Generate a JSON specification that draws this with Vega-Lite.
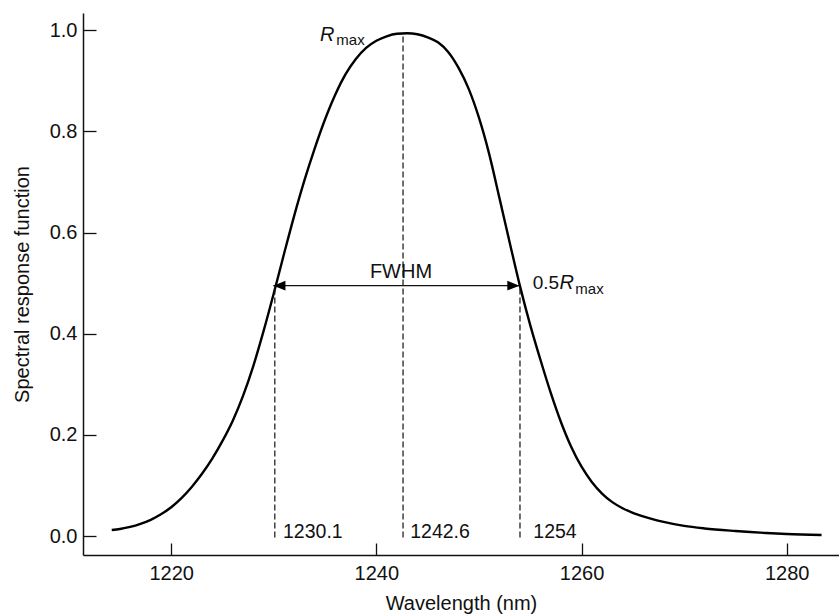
{
  "$schema": "https://vega.github.io/schema/vega-lite/v6.json",
  "width": 756,
  "height": 542,
  "autosize": {"type": "none"},
  "padding": {"left": 83, "top": 13, "right": 0, "bottom": 60},
  "background": "white",
  "config": {
    "view": {"stroke": null},
    "font": "Liberation Sans",
    "axis": {
      "grid": false,
      "domainColor": "#111",
      "domainWidth": 1.5,
      "tickColor": "#111",
      "tickWidth": 1.3,
      "labelColor": "#111",
      "titleColor": "#111",
      "labelFont": "Liberation Sans",
      "titleFont": "Liberation Sans",
      "labelFontSize": 20,
      "titleFontSize": 20,
      "titleFontWeight": "normal"
    }
  },
  "datasets": {
    "curve": [
      {"wavelength": 1214.2, "response": 0.012},
      {"wavelength": 1215, "response": 0.014},
      {"wavelength": 1216, "response": 0.018},
      {"wavelength": 1217, "response": 0.024},
      {"wavelength": 1218, "response": 0.032},
      {"wavelength": 1219, "response": 0.043},
      {"wavelength": 1220, "response": 0.057},
      {"wavelength": 1221, "response": 0.075},
      {"wavelength": 1222, "response": 0.097},
      {"wavelength": 1223, "response": 0.123},
      {"wavelength": 1224, "response": 0.153},
      {"wavelength": 1225, "response": 0.188},
      {"wavelength": 1226, "response": 0.228},
      {"wavelength": 1227, "response": 0.277},
      {"wavelength": 1228, "response": 0.336},
      {"wavelength": 1229, "response": 0.405},
      {"wavelength": 1230, "response": 0.480},
      {"wavelength": 1231, "response": 0.558},
      {"wavelength": 1232, "response": 0.634},
      {"wavelength": 1233, "response": 0.704},
      {"wavelength": 1234, "response": 0.767},
      {"wavelength": 1235, "response": 0.824},
      {"wavelength": 1236, "response": 0.873},
      {"wavelength": 1237, "response": 0.913},
      {"wavelength": 1238, "response": 0.943},
      {"wavelength": 1239, "response": 0.965},
      {"wavelength": 1240, "response": 0.979},
      {"wavelength": 1241, "response": 0.988},
      {"wavelength": 1242, "response": 0.993},
      {"wavelength": 1243, "response": 0.994},
      {"wavelength": 1244, "response": 0.992},
      {"wavelength": 1245, "response": 0.986},
      {"wavelength": 1246, "response": 0.976},
      {"wavelength": 1247, "response": 0.957},
      {"wavelength": 1248, "response": 0.926},
      {"wavelength": 1249, "response": 0.884},
      {"wavelength": 1250, "response": 0.827},
      {"wavelength": 1251, "response": 0.755},
      {"wavelength": 1252, "response": 0.668},
      {"wavelength": 1253, "response": 0.580},
      {"wavelength": 1254, "response": 0.494},
      {"wavelength": 1255, "response": 0.417},
      {"wavelength": 1256, "response": 0.348},
      {"wavelength": 1257, "response": 0.283},
      {"wavelength": 1258, "response": 0.225},
      {"wavelength": 1259, "response": 0.176},
      {"wavelength": 1260, "response": 0.137},
      {"wavelength": 1261, "response": 0.107},
      {"wavelength": 1262, "response": 0.084},
      {"wavelength": 1263, "response": 0.067},
      {"wavelength": 1264, "response": 0.055},
      {"wavelength": 1265, "response": 0.046},
      {"wavelength": 1266, "response": 0.039},
      {"wavelength": 1267, "response": 0.033},
      {"wavelength": 1268, "response": 0.028},
      {"wavelength": 1270, "response": 0.020},
      {"wavelength": 1272, "response": 0.015},
      {"wavelength": 1275, "response": 0.010},
      {"wavelength": 1278, "response": 0.006},
      {"wavelength": 1280, "response": 0.004},
      {"wavelength": 1283.4, "response": 0.002}
    ],
    "markers": [
      {"wavelength": 1230.1, "bottom": -0.003, "top": 0.495, "label": "1230.1", "labelX": 1230.9},
      {"wavelength": 1242.6, "bottom": -0.003, "top": 0.993, "label": "1242.6", "labelX": 1243.3},
      {"wavelength": 1254.0, "bottom": -0.003, "top": 0.495, "label": "1254", "labelX": 1255.3}
    ],
    "fwhm": [
      {"from": 1229.95, "to": 1253.95, "level": 0.495}
    ],
    "heads": [
      {"wavelength": 1230.55, "level": 0.495, "dir": "left"},
      {"wavelength": 1253.35, "level": 0.495, "dir": "right"}
    ],
    "centerText": [
      {"wavelength": 1242.4, "response": 0.511, "text": "FWHM"}
    ],
    "leftText": [
      {"wavelength": 1255.24, "response": 0.488, "text": "0.5"}
    ],
    "italicText": [
      {"wavelength": 1234.5, "response": 0.979, "text": "R"},
      {"wavelength": 1257.85, "response": 0.488, "text": "R"}
    ],
    "subText": [
      {"wavelength": 1236.1, "response": 0.970, "text": "max"},
      {"wavelength": 1259.4, "response": 0.478, "text": "max"}
    ]
  },
  "layer": [
    {
      "data": {"name": "curve"},
      "mark": {"type": "line", "color": "#000", "strokeWidth": 2.4, "interpolate": "monotone"},
      "encoding": {
        "x": {
          "field": "wavelength", "type": "quantitative",
          "scale": {"domain": [1211.4, 1285.1], "nice": false, "zero": false},
          "axis": {
            "values": [1220, 1240, 1260, 1280],
            "format": "d",
            "tickSize": -12,
            "labelPadding": 20,
            "title": "Wavelength (nm)",
            "titlePadding": 10
          }
        },
        "y": {
          "field": "response", "type": "quantitative",
          "scale": {"domain": [-0.0375, 1.034], "nice": false, "zero": false},
          "axis": {
            "values": [0, 0.2, 0.4, 0.6, 0.8, 1.0],
            "format": ".1f",
            "tickSize": -13,
            "labelPadding": 19,
            "title": "Spectral response function",
            "titlePadding": 17
          }
        }
      }
    },
    {
      "mark": {"type": "rule", "color": "#111", "strokeWidth": 1.5},
      "encoding": {"y": {"datum": 1.034}}
    },
    {
      "data": {"name": "markers"},
      "mark": {"type": "rule", "color": "#111", "strokeWidth": 1.2, "strokeDash": [6, 3]},
      "encoding": {
        "x": {"field": "wavelength", "type": "quantitative"},
        "y": {"field": "bottom", "type": "quantitative"},
        "y2": {"field": "top"}
      }
    },
    {
      "data": {"name": "markers"},
      "mark": {"type": "text", "color": "#111", "fontSize": 19.5, "align": "left", "baseline": "alphabetic"},
      "encoding": {
        "x": {"field": "labelX", "type": "quantitative"},
        "y": {"field": "bottom", "type": "quantitative"},
        "text": {"field": "label"}
      }
    },
    {
      "data": {"name": "fwhm"},
      "mark": {"type": "rule", "color": "#111", "strokeWidth": 1.3},
      "encoding": {
        "x": {"field": "from", "type": "quantitative"},
        "x2": {"field": "to"},
        "y": {"field": "level", "type": "quantitative"}
      }
    },
    {
      "data": {"name": "heads"},
      "mark": {"type": "point", "filled": true, "color": "#000", "opacity": 1, "size": 144},
      "encoding": {
        "x": {"field": "wavelength", "type": "quantitative"},
        "y": {"field": "level", "type": "quantitative"},
        "shape": {
          "field": "dir", "type": "nominal", "legend": null,
          "scale": {"domain": ["left", "right"], "range": ["M1,-0.8L-1,0L1,0.8Z", "M-1,-0.8L1,0L-1,0.8Z"]}
        }
      }
    },
    {
      "data": {"name": "centerText"},
      "mark": {"type": "text", "color": "#111", "fontSize": 20, "align": "center", "baseline": "alphabetic"},
      "encoding": {
        "x": {"field": "wavelength", "type": "quantitative"},
        "y": {"field": "response", "type": "quantitative"},
        "text": {"field": "text"}
      }
    },
    {
      "data": {"name": "leftText"},
      "mark": {"type": "text", "color": "#111", "fontSize": 19, "align": "left", "baseline": "alphabetic"},
      "encoding": {
        "x": {"field": "wavelength", "type": "quantitative"},
        "y": {"field": "response", "type": "quantitative"},
        "text": {"field": "text"}
      }
    },
    {
      "data": {"name": "italicText"},
      "mark": {"type": "text", "color": "#111", "fontSize": 20, "fontStyle": "italic", "align": "left", "baseline": "alphabetic"},
      "encoding": {
        "x": {"field": "wavelength", "type": "quantitative"},
        "y": {"field": "response", "type": "quantitative"},
        "text": {"field": "text"}
      }
    },
    {
      "data": {"name": "subText"},
      "mark": {"type": "text", "color": "#111", "fontSize": 15, "align": "left", "baseline": "alphabetic"},
      "encoding": {
        "x": {"field": "wavelength", "type": "quantitative"},
        "y": {"field": "response", "type": "quantitative"},
        "text": {"field": "text"}
      }
    }
  ]
}
